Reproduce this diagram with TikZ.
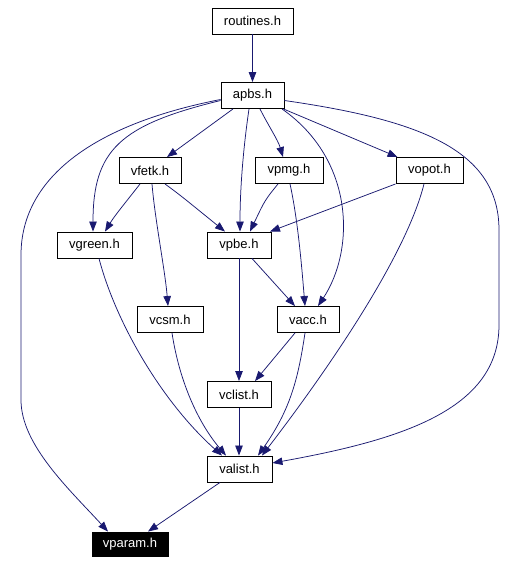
\documentclass[tikz,border=0pt]{standalone}
\usepackage{fontspec}
\setmainfont{Liberation Sans}
\usetikzlibrary{arrows.meta}
\definecolor{edgeblue}{RGB}{25,25,112}
\begin{document}
\begin{tikzpicture}[x=1pt,y=-1pt,
  hbox/.style={draw=black, line width=0.9pt, fill=white, inner sep=0pt,
    minimum height=26pt, font=\fontsize{13}{15}\selectfont},
  hdark/.style={hbox, fill=black, text=white},
  edge/.style={draw=edgeblue, line width=0.75pt, -{Triangle[length=10pt,width=7.5pt]}, fill=none}]
\useasboundingbox (0,0) rectangle (520,563);
\node[hbox, minimum width=81pt] (routines) at (252.5,21) {routines.h};
\node[hbox, minimum width=63pt] (apbs) at (252.5,95.5) {apbs.h};
\node[hbox, minimum width=62pt] (vfetk) at (150,170.5) {vfetk.h};
\node[hbox, minimum width=68pt] (vpmg) at (289,170.5) {vpmg.h};
\node[hbox, minimum width=67pt] (vopot) at (429.5,170.5) {vopot.h};
\node[hbox, minimum width=75pt] (vgreen) at (94.5,245) {vgreen.h};
\node[hbox, minimum width=64pt] (vpbe) at (239,245) {vpbe.h};
\node[hbox, minimum width=66pt] (vcsm) at (170,319.5) {vcsm.h};
\node[hbox, minimum width=62pt] (vacc) at (308,319.5) {vacc.h};
\node[hbox, minimum width=64pt] (vclist) at (239,394.5) {vclist.h};
\node[hbox, minimum width=65pt] (valist) at (239.5,469) {valist.h};
\node[hdark, minimum width=76pt, minimum height=24pt] (vparam) at (130,544) {vparam.h};

\draw[edge] (routines) -- (apbs);
% apbs
\draw[edge] ([yshift=-4pt]apbs.west) .. controls (90,125) and (21,180) .. (21,255)
  -- (21,400) .. controls (21,445) and (70,490) .. ([xshift=-22pt]vparam.north);
\draw[edge] ([yshift=-5pt]apbs.west) .. controls (120,125) and (93,150) .. ([xshift=-1.5pt]vgreen.north);
\draw[edge] ([yshift=-5pt]apbs.east) .. controls (420,120) and (499,150) .. (499,230)
  -- (499,325) .. controls (499,410) and (400,440) .. ([yshift=6pt]valist.east);
\draw[edge] ([xshift=29.5pt]apbs.south) .. controls (355,160) and (355,250) .. ([xshift=10pt]vacc.north);
\draw[edge] ([xshift=-3.5pt]apbs.south) .. controls (243,150) and (240,190) .. ([xshift=1pt]vpbe.north);
\draw[edge] ([xshift=7.5pt]apbs.south) .. controls (268,125) and (278,140) .. ([xshift=-6pt]vpmg.north);
\draw[edge] ([xshift=-19.5pt]apbs.south) -- ([xshift=17pt]vfetk.north);
\draw[edge] ([xshift=-1pt]apbs.south east) -- ([xshift=2pt]vopot.north west);
% vfetk
\draw[edge] ([xshift=-10pt]vfetk.south) .. controls (130,197) and (115,215) .. ([xshift=10.5pt]vgreen.north);
\draw[edge] ([xshift=15pt]vfetk.south) .. controls (180,195) .. ([xshift=-14pt]vpbe.north);
\draw[edge] ([xshift=2pt]vfetk.south) .. controls (155,220) and (165,270) .. ([xshift=-2pt]vcsm.north);
% vpmg
\draw[edge] ([xshift=-11pt]vpmg.south) .. controls (265,200) .. ([xshift=11pt]vpbe.north);
\draw[edge] ([xshift=1pt]vpmg.south) .. controls (298,220) and (302,270) .. ([xshift=-3pt]vacc.north);
% vopot
\draw[edge] (vopot.south west) -- ([xshift=31pt]vpbe.north);
\draw[edge] ([xshift=-5.5pt]vopot.south) .. controls (405,260) and (320,380) .. ([xshift=22.5pt]valist.north);
% vgreen, vcsm
\draw[edge] ([xshift=4.5pt]vgreen.south) .. controls (115,320) and (160,400) .. ([xshift=-17.5pt]valist.north);
\draw[edge] ([xshift=2pt]vcsm.south) .. controls (180,385) and (200,425) .. ([xshift=-13.5pt]valist.north);
% vpbe
\draw[edge] ([xshift=13pt]vpbe.south) -- ([xshift=-13pt]vacc.north);
\draw[edge] (vpbe.south) -- (vclist.north);
% vacc
\draw[edge] ([xshift=-13pt]vacc.south) -- ([xshift=16pt]vclist.north);
\draw[edge] ([xshift=-3pt]vacc.south) .. controls (298,380) and (290,410) .. ([xshift=18.5pt]valist.north);
% vclist, valist
\draw[edge] (vclist.south) -- ([xshift=-0.5pt]valist.north);
\draw[edge] ([xshift=-19.5pt]valist.south) -- ([xshift=18pt]vparam.north);
\end{tikzpicture}
\end{document}
